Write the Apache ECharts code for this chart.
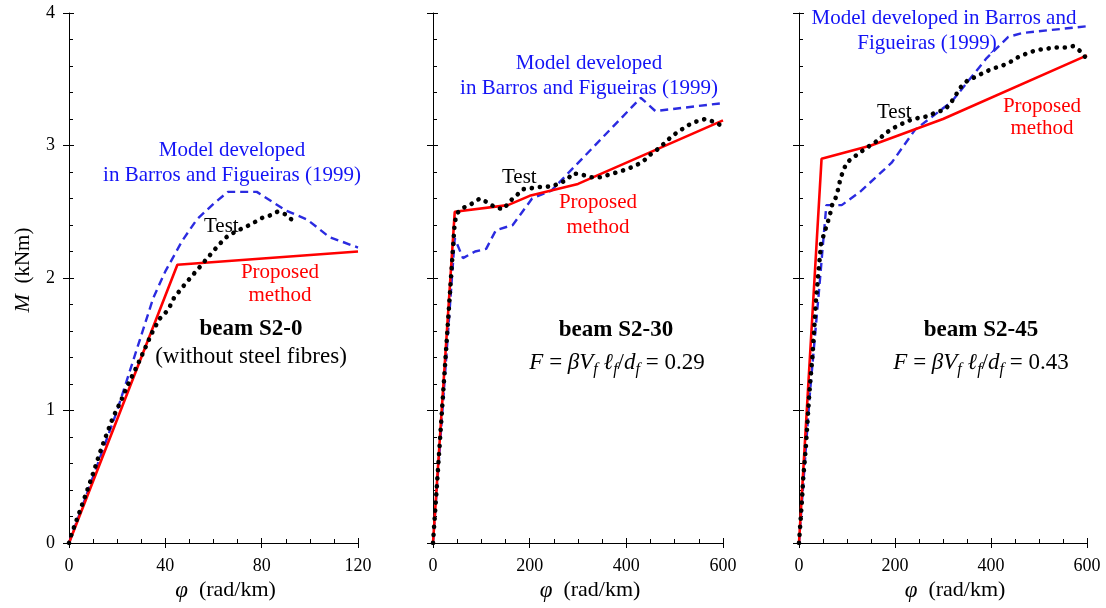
<!DOCTYPE html>
<html>
<head>
<meta charset="utf-8">
<script src="https://cdn.jsdelivr.net/npm/echarts@6/dist/echarts.min.js"></script>
<style>
  html, body { margin: 0; padding: 0; background: #fff; }
  #chart { width: 1106px; height: 608px; }
</style>
</head>
<body>
<div id="chart"></div>
<script>
var chart = echarts.init(document.getElementById('chart'));

// serif font like the original figure
const serif = '"Liberation Serif", "DejaVu Serif", serif';
const colors = {
    red: '#ff0000',
    blue: '#2b2be0',
    blueText: '#1414f5',
    dots: '#000000'
};

// beam S2-0 (phi in rad/km, M in kNm)
const s20Proposed = [[0, 0], [45, 2.1], [120, 2.2]];
const s20Model = [[0, 0], [20, 1.0], [35, 1.85], [40, 2.05], [47, 2.28], [53, 2.44], [60, 2.56], [66, 2.65],
    [78, 2.65], [90, 2.51], [99, 2.44], [108, 2.31], [120, 2.23]];
const s20Test = [[0, 0], [1.1, 0.07], [3.9, 0.21], [7.6, 0.40], [10.1, 0.53], [12.6, 0.67], [15.4, 0.81],
    [18.1, 0.94], [21.5, 1.07], [24.6, 1.20], [28.1, 1.33], [31.1, 1.45], [34.3, 1.58], [37.5, 1.69],
    [41.2, 1.76], [43.6, 1.85], [48, 1.95], [52.7, 2.05], [55.1, 2.10], [57.9, 2.16], [62.7, 2.26],
    [65.5, 2.31], [69.1, 2.35], [72.7, 2.38], [76.1, 2.41], [79.6, 2.45], [83.2, 2.47], [86.5, 2.50],
    [90, 2.48], [93.1, 2.43]];

// beam S2-30
const s230Proposed = [[0, 0], [45, 2.5], [155, 2.55], [200, 2.62], [300, 2.71], [600, 3.19]];
const s230Model = [[0, 0], [45, 2.3], [62, 2.15], [87, 2.2], [110, 2.22], [130, 2.36], [165, 2.4],
    [205, 2.6], [245, 2.66], [430, 3.36], [460, 3.26], [600, 3.32]];
const s230Test = [[0, 0], [45, 2.42], [50, 2.49], [63, 2.53], [80, 2.56], [97, 2.6], [113, 2.57],
    [130, 2.53], [146, 2.52], [159, 2.58], [172, 2.62], [186, 2.67], [208, 2.68], [228, 2.69],
    [246, 2.69], [277, 2.74], [289, 2.79], [308, 2.78], [327, 2.76], [346, 2.76], [364, 2.78],
    [383, 2.8], [401, 2.82], [420, 2.85], [435, 2.88], [449, 2.93], [464, 2.97], [480, 3.02],
    [494, 3.07], [510, 3.11], [526, 3.15], [544, 3.18], [563, 3.2], [580, 3.18], [597, 3.15]];

// beam S2-45
const s245Proposed = [[0, 0], [47, 2.9], [150, 3.0], [300, 3.2], [600, 3.68]];
const s245Model = [[0, 0], [22, 1.1], [44, 2.0], [51, 2.3], [57, 2.55], [89, 2.55], [127, 2.65],
    [193, 2.87], [242, 3.12], [318, 3.33], [391, 3.66], [436, 3.82], [467, 3.85], [600, 3.9]];
const s245Test = [[0, 0], [5.6, 0.29], [9, 0.5], [14, 0.71], [18, 0.93], [21.5, 1.13], [25, 1.28],
    [28.5, 1.43], [32, 1.63], [35.4, 1.83], [39, 1.98], [42.4, 2.12], [46, 2.26], [52.7, 2.34],
    [59, 2.41], [64.6, 2.48], [69, 2.55], [77, 2.61], [83, 2.69], [86, 2.75], [99, 2.87], [117, 2.92],
    [132, 2.96], [148, 3.0], [165, 3.04], [179, 3.09], [196, 3.13], [212, 3.16], [231, 3.19],
    [251, 3.21], [268, 3.22], [285, 3.25], [304, 3.27], [316, 3.32], [337, 3.44], [351, 3.49],
    [369, 3.52], [385, 3.55], [403, 3.58], [422, 3.6], [440, 3.63], [458, 3.67], [478, 3.7],
    [495, 3.72], [515, 3.73], [533, 3.74], [554, 3.74], [571, 3.75], [587, 3.71], [600, 3.65]];

// tick settings
const xMax = [120, 600, 600];
const xInterval = [40, 200, 200];
const yMax = 4;
const yInterval = 1;

const panels = [
    { left: 69, width: 289, proposed: s20Proposed, model: s20Model, test: s20Test },
    { left: 433, width: 290, proposed: s230Proposed, model: s230Model, test: s230Test },
    { left: 799, width: 288, proposed: s245Proposed, model: s245Model, test: s245Test }
];

const axisLine = { show: true, lineStyle: { color: '#000', width: 1 } };
const grids = [], xAxes = [], yAxes = [], series = [];

panels.forEach((p, i) => {
    grids.push({ left: p.left, top: 13, width: p.width, height: 530 });
    // main axes: line, inner ticks, minor ticks
    xAxes.push({
        type: 'value', gridIndex: i, min: 0, max: xMax[i], interval: xInterval[i],
        axisLine: axisLine,
        axisTick: { inside: true, length: 5, lineStyle: { color: '#000' } },
        minorTick: { show: true, splitNumber: 4, length: 4, lineStyle: { color: '#000' } },
        axisLabel: { show: false }, splitLine: { show: false },
        name: '{i|φ}  (rad/km)', nameLocation: 'middle', nameGap: 36,
        nameTextStyle: {
            fontFamily: serif, fontSize: 22, color: '#000', padding: [0, 0, 0, 24],
            rich: { i: { fontFamily: serif, fontSize: 23, fontStyle: 'italic', color: '#000' } }
        }
    });
    // overlay axes: outer half of major ticks + labels
    xAxes.push({
        type: 'value', gridIndex: i, min: 0, max: xMax[i], interval: xInterval[i], position: 'bottom',
        axisLine: { show: false },
        axisTick: { show: true, inside: false, length: 5, lineStyle: { color: '#000' } },
        axisLabel: { show: true, margin: 14, fontFamily: serif, fontSize: 18, color: '#000' },
        splitLine: { show: false }
    });
    yAxes.push({
        type: 'value', gridIndex: i, min: 0, max: yMax, interval: yInterval,
        axisLine: axisLine,
        axisTick: { inside: true, length: 5, lineStyle: { color: '#000' } },
        minorTick: { show: true, splitNumber: 5, length: 4, lineStyle: { color: '#000' } },
        axisLabel: { show: false }, splitLine: { show: false }
    });
    yAxes.push({
        type: 'value', gridIndex: i, min: 0, max: yMax, interval: yInterval, position: 'left',
        axisLine: { show: false },
        axisTick: { show: true, inside: false, length: 6, lineStyle: { color: '#000' } },
        axisLabel: { show: i === 0, margin: 14, fontFamily: serif, fontSize: 18, color: '#000' },
        splitLine: { show: false }
    });

    const xi = 2 * i, yi = 2 * i;
    series.push({
        type: 'line', name: 'Proposed', xAxisIndex: xi, yAxisIndex: yi, data: p.proposed,
        showSymbol: false, silent: true, z: 3,
        lineStyle: { color: colors.red, width: 2.6 }
    });
    series.push({
        type: 'line', name: 'Model', xAxisIndex: xi, yAxisIndex: yi, data: p.model,
        showSymbol: false, silent: true, z: 2,
        lineStyle: { color: colors.blue, width: 2.4, type: [8, 5] }
    });
    series.push({
        type: 'line', name: 'Test', xAxisIndex: xi, yAxisIndex: yi, data: p.test,
        showSymbol: false, silent: true, z: 4,
        lineStyle: { color: colors.dots, width: 4.6, type: [0.1, 8], cap: 'round' }
    });
});

// plain text annotation
function label(x, y, text, color, font, align) {
    return {
        type: 'text', x: x, y: y, silent: true,
        style: {
            text: text, fill: color, font: font || ('21px ' + serif),
            align: align || 'center', verticalAlign: 'middle'
        }
    };
}

// F = beta V_f l_f / d_f = value, with lowered subscripts
function formula(x, y, value) {
    return {
        type: 'text', x: x, y: y, silent: true,
        style: {
            text: '{i|F}{n| = }{i|βV}{s|f}{i| ℓ}{s|f}{n|/}{i|d}{s|f}{n| = ' + value + '}',
            fill: '#000', font: '23px ' + serif, align: 'center', verticalAlign: 'middle',
            rich: {
                i: { fontFamily: serif, fontSize: 23, fontStyle: 'italic', fill: '#000', lineHeight: 30 },
                n: { fontFamily: serif, fontSize: 23, fill: '#000', lineHeight: 30 },
                s: { fontFamily: serif, fontSize: 16, fontStyle: 'italic', fill: '#000', lineHeight: 16, verticalAlign: 'bottom' }
            }
        }
    };
}

const boldFont = 'bold 23px ' + serif;
const graphics = [
    // y axis title
    {
        type: 'text', x: 23, y: 270, rotation: Math.PI / 2, silent: true,
        style: {
            text: '{i|M}  (kNm)', font: '21px ' + serif, fill: '#000',
            align: 'center', verticalAlign: 'middle',
            rich: { i: { fontFamily: serif, fontSize: 22, fontStyle: 'italic', fill: '#000' } }
        }
    },
    // panel 1
    label(232, 150, 'Model developed', colors.blueText),
    label(232, 175, 'in Barros and Figueiras (1999)', colors.blueText),
    label(204, 226, 'Test', '#000', null, 'left'),
    label(280, 272, 'Proposed', colors.red),
    label(280, 295, 'method', colors.red),
    label(251, 329, 'beam S2-0', '#000', boldFont),
    label(251, 357, '(without steel fibres)', '#000', '23px ' + serif),
    // panel 2
    label(589, 63, 'Model developed', colors.blueText),
    label(589, 88, 'in Barros and Figueiras (1999)', colors.blueText),
    label(502, 177, 'Test', '#000', null, 'left'),
    label(598, 202, 'Proposed', colors.red),
    label(598, 227, 'method', colors.red),
    label(616, 330, 'beam S2-30', '#000', boldFont),
    formula(617, 363, '0.29'),
    // panel 3
    label(944, 18, 'Model developed in Barros and', colors.blueText),
    label(927, 43, 'Figueiras (1999)', colors.blueText),
    label(877, 112, 'Test', '#000', null, 'left'),
    label(1042, 106, 'Proposed', colors.red),
    label(1042, 128, 'method', colors.red),
    label(981, 330, 'beam S2-45', '#000', boldFont),
    formula(981, 363, '0.43')
];

const option = {
    backgroundColor: '#fff',
    animation: false,
    grid: grids,
    xAxis: xAxes,
    yAxis: yAxes,
    series: series,
    graphic: graphics
};

chart.setOption(option);

window.addEventListener('resize', () => {
    chart.resize();
});
</script>
</body>
</html>
